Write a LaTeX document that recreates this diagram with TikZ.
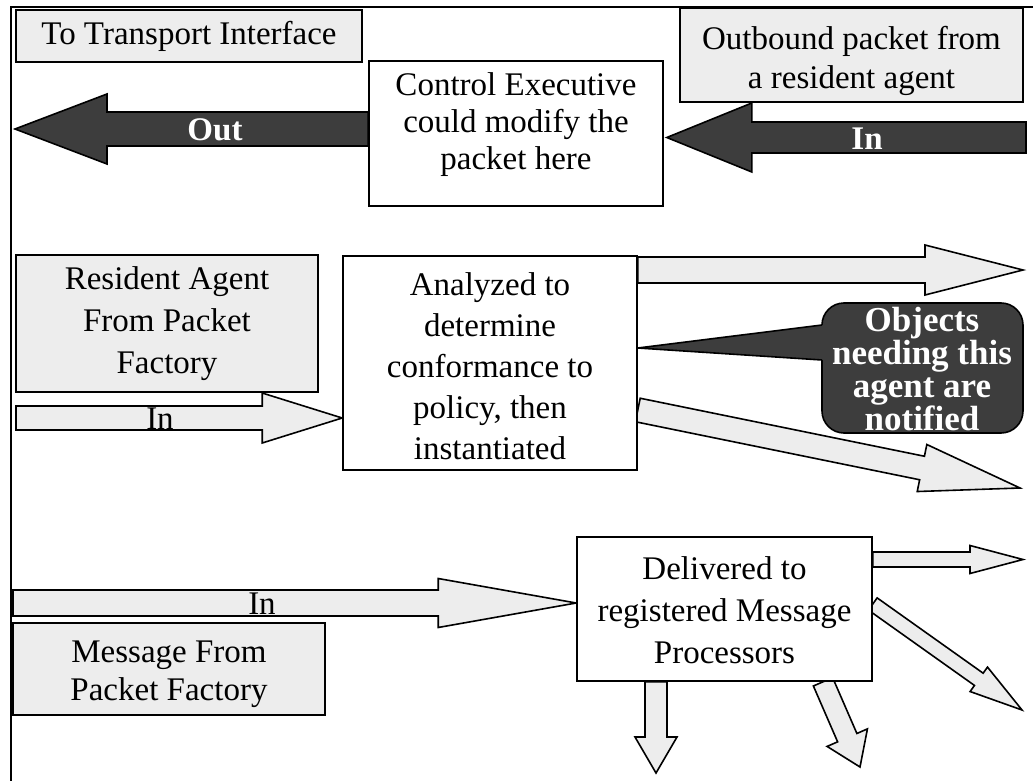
\documentclass[tikz,border=0pt]{standalone}
\usepackage{fontspec}
\setmainfont{Liberation Serif}
\usetikzlibrary{calc,backgrounds}
\definecolor{lightfill}{gray}{0.93}
\definecolor{darkfill}{gray}{0.24}
\newcommand{\blockarrow}[6][]{%
  \coordinate (baS) at ($(#3)!#6!(#2)$);
  \draw[#1] ($(#2)!#4!90:(#3)$) -- ($(baS)!#4!90:(#3)$) -- ($(baS)!#5!90:(#3)$) -- (#3)
    -- ($(baS)!#5!-90:(#3)$) -- ($(baS)!#4!-90:(#3)$) -- ($(#2)!#4!-90:(#3)$) -- cycle;
}
\begin{document}
\begin{tikzpicture}[x=1pt,y=-1pt,line width=1.6pt,line join=miter,
  txt/.style={font=\fontsize{33}{41}\selectfont,align=center,inner sep=0pt},
  lightbox/.style={draw,fill=lightfill,inner sep=0pt},
  whitebox/.style={draw,fill=white,inner sep=0pt},
  darkarrow/.style={draw=black,fill=darkfill,line width=1.6pt,line join=miter},
  lightarrow/.style={draw=black,fill=lightfill,line width=1.6pt,line join=miter},
  emb/.style={font=\fontsize{33}{33}\selectfont\bfseries,text=white,align=center,inner sep=0pt}]
\useasboundingbox (0,0) rectangle (1033,781);
% frame
\coordinate (fBL) at (11,781);
\coordinate (fTL) at (11,7);
\coordinate (fTR) at (1033,7);
\draw (fBL) -- (fTL) -- (fTR);
% boxes
\node[lightbox,minimum width=346pt,minimum height=52pt] (tti) at (189,36) {};
\node[txt] (ttit) at (189,36) {To Transport Interface};
\node[whitebox,minimum width=294pt,minimum height=145pt] (ce) at (516,133.5) {};
\node[txt,font=\fontsize{33}{37}\selectfont] (cet) at (516,125) {Control Executive\\could modify the\\packet here};
\node[lightbox,minimum width=343pt,minimum height=94pt] (ob) at (851.5,55) {};
\node[txt,font=\fontsize{33}{39}\selectfont] (obt) at (851.5,61) {Outbound packet from\\a resident agent};
\node[lightbox,minimum width=302pt,minimum height=137pt] (ra) at (167,323.5) {};
\node[txt,font=\fontsize{33}{42}\selectfont] (rat) at (167,324) {Resident Agent\\From Packet\\Factory};
\node[whitebox,minimum width=294pt,minimum height=214pt] (an) at (490,363) {};
\node[txt] (ant) at (490,366) {Analyzed to\\determine\\conformance to\\policy, then\\instantiated};
\node[lightbox,minimum width=312pt,minimum height=92pt] (mf) at (169,669) {};
\node[txt,font=\fontsize{33}{38}\selectfont] (mft) at (169,674) {Message From\\Packet Factory};
\node[whitebox,minimum width=295pt,minimum height=144pt] (dl) at (724.5,609) {};
\node[txt,font=\fontsize{33}{42}\selectfont] (dlt) at (724.5,610) {Delivered to\\registered Message\\Processors};
% callout
\node[draw,fill=darkfill,rounded corners=22pt,minimum width=201pt,minimum height=130pt,inner sep=0pt] (obj) at (922.5,368) {};
\coordinate (pT) at ($(an.east)+(0,-15)$);
\coordinate (p1) at (822,325);
\coordinate (p2) at (822,360);
\fill[darkfill] (pT) -- ($(pT)!1.05!(p1)$) -- ($(pT)!1.05!(p2)$) -- cycle;
\draw (p1) -- (pT) -- (p2);
\node[emb,font=\fontsize{35}{33}\selectfont\bfseries] (objt) at (922,369) {Objects\\needing this\\agent are\\notified};
% arrows
\begin{scope}[on background layer]
  \coordinate (outT) at (15,129);
  \coordinate (outS) at (ce.west |- outT);
  \blockarrow[darkarrow]{outS}{outT}{17pt}{35pt}{92pt}
  \coordinate (inA) at (1026,137.5);
  \coordinate (inB) at ($(ce.east |- inA)+(3,0)$);
  \blockarrow[darkarrow]{inA}{inB}{15.5pt}{34.5pt}{85pt}
  \coordinate (raA) at (16,418);
  \coordinate (raB) at (an.west |- raA);
  \blockarrow[lightarrow]{raA}{raB}{12pt}{25pt}{80pt}
  \coordinate (r1B) at (1023,270);
  \coordinate (r1A) at (an.east |- r1B);
  \blockarrow[lightarrow]{r1A}{r1B}{13pt}{25pt}{98pt}
  \coordinate (r2A) at ($(an.east)+(0,47)$);
  \coordinate (r2B) at (1020,488);
  \blockarrow[lightarrow]{r2A}{r2B}{12pt}{24pt}{100pt}
  \coordinate (mA) at (13,603);
  \coordinate (mB) at (dl.west |- mA);
  \blockarrow[lightarrow]{mA}{mB}{13pt}{24.5pt}{138pt}
  \coordinate (d1B) at (1023,559.5);
  \coordinate (d1A) at (dl.east |- d1B);
  \blockarrow[lightarrow]{d1A}{d1B}{7.5pt}{14pt}{53pt}
  \coordinate (d2A) at ($(dl.east)+(0,-5)$);
  \coordinate (d2B) at (1022,710);
  \blockarrow[lightarrow]{d2A}{d2B}{7.5pt}{15pt}{53pt}
  \coordinate (d3B) at (656,773);
  \coordinate (d3A) at (d3B |- dl.south);
  \blockarrow[lightarrow]{d3A}{d3B}{11pt}{21pt}{36pt}
  \coordinate (d4A) at ($(dl.south)+(98.5,0)$);
  \coordinate (d4B) at (860,767);
  \blockarrow[lightarrow]{d4A}{d4B}{10.5pt}{22pt}{32pt}
\end{scope}
% arrow labels
\node[emb] (outL) at (215,130) {Out};
\node[emb] (inL) at (867,139) {In};
\node[txt] (raL) at (160,419) {In};
\node[txt] (mL) at (262,604) {In};
\end{tikzpicture}
\end{document}
